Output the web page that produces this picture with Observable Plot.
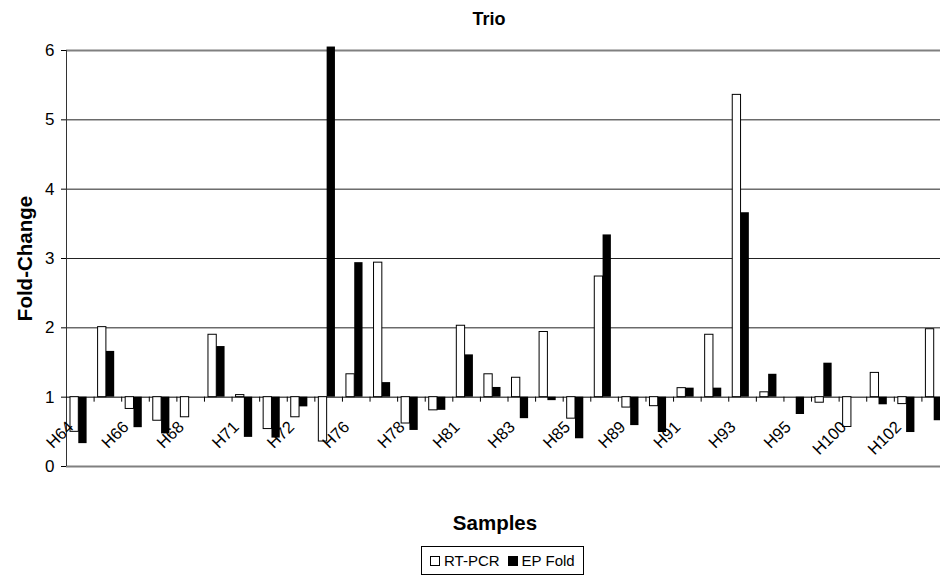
<!DOCTYPE html>
<html>
<head>
<meta charset="utf-8">
<script src="https://cdn.jsdelivr.net/npm/d3@7"></script>
<script src="https://cdn.jsdelivr.net/npm/@observablehq/plot@0.6"></script>
<style>
  html, body { margin: 0; padding: 0; background: #fff; overflow: hidden; }
  body { width: 940px; height: 580px; position: relative; font-family: "Liberation Sans", Arial, sans-serif; }
  #title { height: 36px; line-height: 38px; font-weight: bold; font-size: 18px; text-align: center; padding-left: 38px; box-sizing: border-box; width: 940px; }
  #legend { position: absolute; left: 421px; top: 546px; border: 1px solid #000; padding: 5px 8px; display: flex; align-items: center; font-size: 15px; gap: 4px; }
  #legend .sw { width: 8px; height: 8px; border: 1px solid #000; display: inline-block; }
  #chart svg { display: block; }
</style>
</head>
<body>
<div id="title">Trio</div>
<div id="chart"></div>
<div id="legend">
  <span class="sw" style="background:#fff"></span><span>RT-PCR</span>
  <span class="sw" style="background:#000;margin-left:4px"></span><span>EP Fold</span>
</div>
<script>
// Samples (every other one is labelled on the axis)
const samples = ["H64","H65","H66","H67","H68","H69","H71","H71B","H72","H73","H76","H77","H78","H80","H81","H82","H83","H84","H85","H87","H89","H90","H91","H92","H93","H94","H95","H97","H100","H101","H102","H103"];
const tickLabels = ["H64","H66","H68","H71","H72","H76","H78","H81","H83","H85","H89","H91","H93","H95","H100","H102"];
const seriesNames = ["RT-PCR", "EP Fold"];
// Fold-change values (bars start from the baseline 1)
const rtPcr  = [0.50, 2.01, 0.83, 0.66, 0.71, 1.90, 1.03, 0.54, 0.71, 0.36, 1.33, 2.94, 0.62, 0.81, 2.03, 1.33, 1.28, 1.94, 0.69, 2.74, 0.85, 0.87, 1.13, 1.90, 5.36, 1.07, null, 0.92, 0.57, 1.35, 0.90, 1.98];
const epFold = [0.33, 1.66, 0.56, 0.47, null, 1.73, 0.42, 0.41, 0.86, 6.05, 2.94, 1.21, 0.52, 0.81, 1.61, 1.14, 0.69, 0.95, 0.40, 3.34, 0.59, 0.49, 1.13, 1.13, 3.66, 1.33, 0.75, 1.49, null, 0.89, 0.49, 0.66];
const yTicks = [0, 1, 2, 3, 4, 5, 6];
const gridValues = [2, 3, 4, 5];
const baseline = 1;

const rtData = samples.map((s, i) => ({sample: s, series: seriesNames[0], value: rtPcr[i]})).filter(d => d.value != null);
const epData = samples.map((s, i) => ({sample: s, series: seriesNames[1], value: epFold[i]})).filter(d => d.value != null);

const W = 940, H = 500, mL = 66, mR = -9, mT = 14, mB = 70;
const bw = (W - mR - mL) / samples.length; // band width in px

const chart = Plot.plot({
  width: W, height: H,
  marginLeft: mL, marginRight: mR, marginTop: mT, marginBottom: mB,
  style: {fontFamily: "Liberation Sans, Arial, sans-serif", fontSize: "17px", background: "#fff", overflow: "hidden"},
  x: {domain: samples, padding: 0, round: false, axis: null},
  y: {domain: [0, 6], ticks: yTicks, tickSize: 5, tickPadding: 7, tickFormat: d => d, label: null},
  marks: [
    // gridlines
    Plot.ruleY(gridValues, {stroke: "#222", strokeWidth: 1}),
    Plot.ruleY([6], {stroke: "#808080", strokeWidth: 2}),
    Plot.ruleY([0], {stroke: "#808080", strokeWidth: 2}),
    // left axis line
    Plot.ruleX([samples[0]], {y1: 0, y2: 6, dx: -bw / 2, stroke: "#333", strokeWidth: 1}),
    // category axis at 1 and its ticks
    Plot.ruleY([baseline], {stroke: "#000", strokeWidth: 1}),
    Plot.ruleX(samples.slice(1), {y1: baseline, y2: baseline, insetBottom: -5, dx: -bw / 2, stroke: "#000", strokeWidth: 1}),
    // white bars
    Plot.barY(rtData, {x: "sample", y1: baseline, y2: "value", fill: "#fff", stroke: "#000", strokeWidth: 1,
      insetLeft: bw / 2 - 9.8, insetRight: bw / 2 + 1.5}),
    // category labels
    Plot.text(tickLabels, {x: d => d, y: () => baseline, text: d => d, rotate: -45, textAnchor: "end",
      dx: -9.5, dy: 27, fontSize: 16.5, fill: "#000"}),
    // black bars
    Plot.barY(epData, {x: "sample", y1: baseline, y2: "value", fill: "#000",
      insetLeft: bw / 2 - 1.5, insetRight: bw / 2 - 6.8}),
    // axis titles
    Plot.text(["Fold-Change"], {frameAnchor: "left", text: d => d, rotate: -90, textAnchor: "middle", dx: -41, fontWeight: "bold", fontSize: 20.5}),
    Plot.text(["Samples"], {frameAnchor: "bottom", text: d => d, lineAnchor: "middle", dx: -13, dy: 57, fontWeight: "bold", fontSize: 20.5})
  ]
});
document.getElementById("chart").appendChild(chart);
</script>
</body>
</html>
